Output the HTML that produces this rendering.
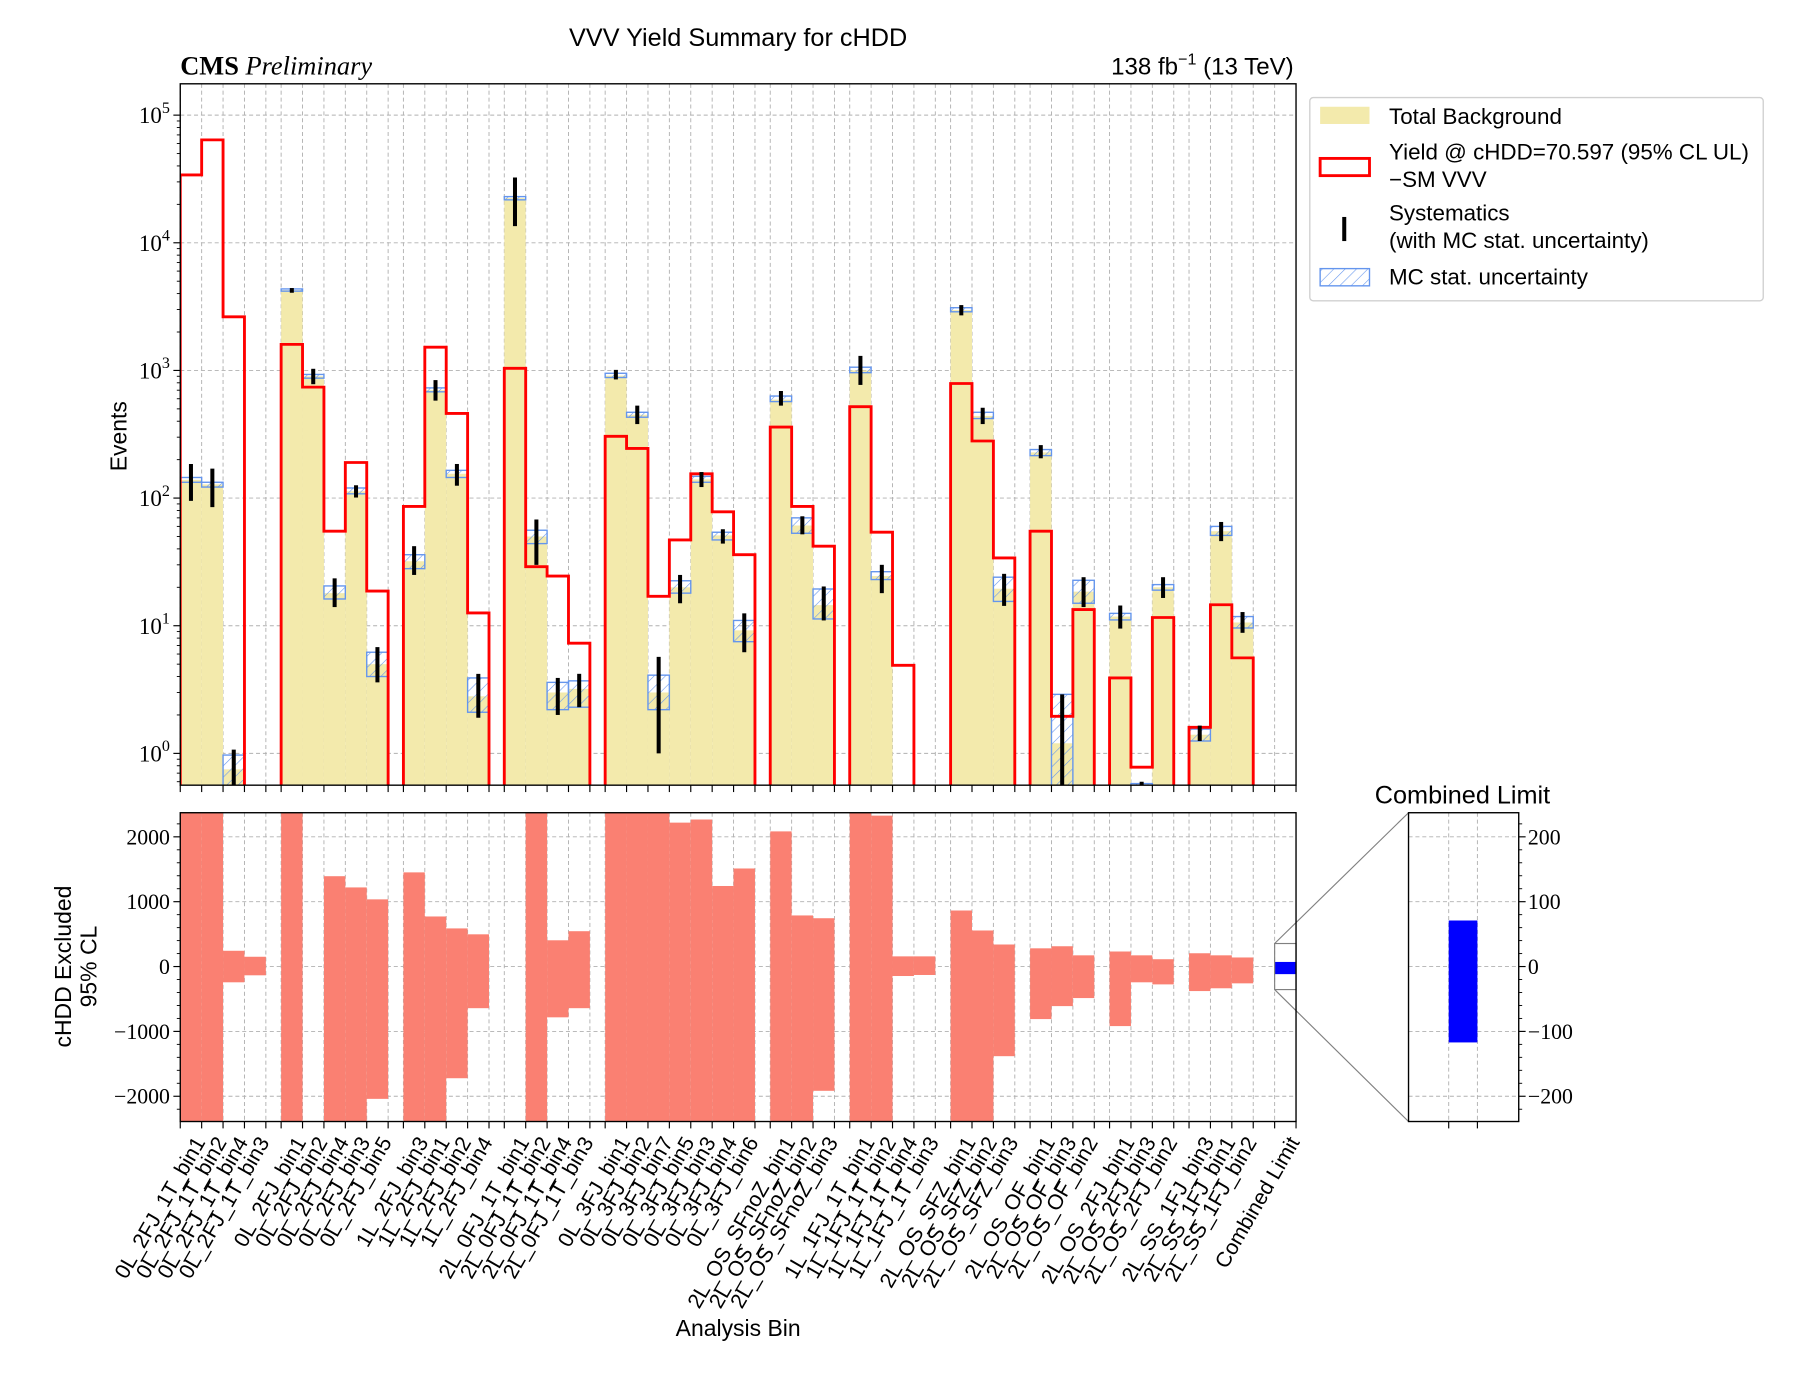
<!DOCTYPE html>
<html><head><meta charset="utf-8"><title>VVV Yield Summary for cHDD</title>
<style>
html,body{margin:0;padding:0;background:#fff;}
svg{display:block;}
.sans{font-family:"Liberation Sans",sans-serif;}
.serif{font-family:"Liberation Serif",serif;}
</style></head>
<body>
<svg id="chart" width="1800" height="1400" viewBox="0 0 1568 1219.6" xmlns="http://www.w3.org/2000/svg">
<defs>
<pattern id="hatch" patternUnits="userSpaceOnUse" width="7" height="7" patternTransform="rotate(45)">
<line x1="0" y1="0" x2="0" y2="7" stroke="#6495ed" stroke-width="1"/>
</pattern>
<clipPath id="clipMain"><rect x="157" y="73" width="972" height="611"/></clipPath>
<clipPath id="clipLow"><rect x="157" y="708" width="972" height="269"/></clipPath>
<clipPath id="clipInset"><rect x="1227" y="708" width="96" height="269"/></clipPath>
</defs>
<rect x="0" y="0" width="1568" height="1219.6" fill="#fff"/>
<text class="sans" x="643" y="40" font-size="22" text-anchor="middle">VVV Yield Summary for cHDD</text>
<text class="serif" x="157" y="65" font-size="23"><tspan font-weight="bold">CMS</tspan> <tspan font-style="italic">Preliminary</tspan></text>
<text class="sans" x="1127" y="65" font-size="21" text-anchor="end">138 fb<tspan font-size="14" dy="-9">−1</tspan><tspan dy="9"> (13 TeV)</tspan></text>
<g id="gridMain"></g>
<g id="gridLow"></g>
<g id="mainMarks" clip-path="url(#clipMain)"></g>
<g id="lowMarks" clip-path="url(#clipLow)"></g>
<g id="insetMarks" clip-path="url(#clipInset)"></g>
<g id="axes"></g>
<g id="xlabels"></g>
<text class="sans" font-size="20" text-anchor="middle" transform="translate(110,380) rotate(-90)">Events</text>
<text class="sans" font-size="20" text-anchor="middle" transform="translate(62,842) rotate(-90)"><tspan x="0" dy="0">cHDD Excluded</tspan><tspan x="0" dy="22">95% CL</tspan></text>
<text class="sans" x="643" y="1164" font-size="20" text-anchor="middle">Analysis Bin</text>
<text class="sans" x="1274" y="700" font-size="22" text-anchor="middle">Combined Limit</text>
<g>
<rect x="1141" y="85" width="395" height="177" rx="3" fill="#fff" stroke="#d0d0d0" stroke-width="1.2"/>
<rect x="1150" y="93" width="43" height="15" fill="#f3eaac"/>
<text class="sans" x="1210" y="108" font-size="19.5">Total Background</text>
<rect x="1150" y="138" width="43" height="15" fill="none" stroke="#ff0000" stroke-width="2.5"/>
<text class="sans" font-size="19.5"><tspan x="1210" y="139">Yield @ cHDD=70.597 (95% CL UL)</tspan><tspan x="1210" y="163">−SM VVV</tspan></text>
<line x1="1171" y1="189" x2="1171" y2="210" stroke="#000" stroke-width="3.5"/>
<text class="sans" font-size="19.5"><tspan x="1210" y="192">Systematics</tspan><tspan x="1210" y="216">(with MC stat.  uncertainty)</tspan></text>
<rect x="1150" y="234" width="43" height="15" fill="url(#hatch)" stroke="#6495ed" stroke-width="1.2"/>
<text class="sans" x="1210" y="248" font-size="19.5">MC stat.  uncertainty</text>
</g>
</svg>
<script>
const binLabels = ["0L_2FJ_1T_bin1","0L_2FJ_1T_bin2","0L_2FJ_1T_bin4","0L_2FJ_1T_bin3",
"0L_2FJ_bin1","0L_2FJ_bin2","0L_2FJ_bin4","0L_2FJ_bin3","0L_2FJ_bin5",
"1L_2FJ_bin3","1L_2FJ_bin1","1L_2FJ_bin2","1L_2FJ_bin4",
"2L_0FJ_1T_bin1","2L_0FJ_1T_bin2","2L_0FJ_1T_bin4","2L_0FJ_1T_bin3",
"0L_3FJ_bin1","0L_3FJ_bin2","0L_3FJ_bin7","0L_3FJ_bin5","0L_3FJ_bin3","0L_3FJ_bin4","0L_3FJ_bin6",
"2L_OS_SFnoZ_bin1","2L_OS_SFnoZ_bin2","2L_OS_SFnoZ_bin3",
"1L_1FJ_1T_bin1","1L_1FJ_1T_bin2","1L_1FJ_1T_bin4","1L_1FJ_1T_bin3",
"2L_OS_SFZ_bin1","2L_OS_SFZ_bin2","2L_OS_SFZ_bin3",
"2L_OS_OF_bin1","2L_OS_OF_bin3","2L_OS_OF_bin2",
"2L_OS_2FJ_bin1","2L_OS_2FJ_bin3","2L_OS_2FJ_bin2",
"2L_SS_1FJ_bin3","2L_SS_1FJ_bin1","2L_SS_1FJ_bin2"];
const groupSizes = [4,5,4,4,7,3,4,3,3,3,3];
const background = [139,128,0.75,0,
4260,900,18,113,5.0,
32,700,155,2.8,
22400,50,3.0,3.2,
910,450,3.0,20,140,51,9.2,
590,61,14.5,
1000,24.5,0,0,
2970,440,19.5,
228,1.2,18.5,
11.8,0.5,20,
1.4,55,10.6];
const mcStatLow = [133,122,0.55,0, 4180,870,16.2,108,4.0, 28,680,145,2.1, 21700,44,2.2,2.3, 880,430,2.2,18,133,47,7.5, 570,53,11.3, 960,23,0,0, 2880,420,15.5, 215,0.3,15, 11.1,0.45,19, 1.25,51,9.6];
const mcStatHigh = [145,133,0.97,0, 4350,930,20.5,120,6.2, 36,730,165,3.9, 23000,56,3.6,3.7, 950,470,4.1,22.5,148,54,11, 630,70,19.4, 1060,26.5,0,0, 3100,470,24, 240,2.9,22.7, 12.5,0.58,21, 1.55,60,11.8];
const systLow = [95,85,0.5,0, 4060,780,14,101,3.6, 25,580,125,1.9, 13500,30,2.0,2.3, 850,380,1.0,15,122,44,6.2, 530,52,11, 770,18,0,0, 2700,380,14.3, 205,0.3,14, 9.5,0.45,16.5, 1.25,46,8.8];
const systHigh = [185,170,1.07,0, 4420,1030,23.5,126,6.8, 42,840,185,4.2, 32500,68,3.9,4.2, 1010,530,5.7,25,160,57,12.5, 690,72,20.3, 1300,30,0,0, 3250,510,25.5, 260,2.9,24, 14.4,0.6,24, 1.65,65,12.8];
const signalYield = [34000,64000,2630,0,
1600,740,55,190,18.7,
86,1520,460,12.6,
1040,29,24.5,7.3,
305,245,17,47,155,78,36,
360,86,42,
520,54,4.9,0,
790,280,34,
55,1.95,13.4,
3.9,0.78,11.6,
1.6,14.6,5.6];
const limitLow = [-3000,-3000,-243,-135,
-3000,null,-3000,-3000,-2040,
-3000,-3000,-1722,-642,
null,-3000,-783,-642,
-3000,-3000,-3000,-3000,-3000,-3000,-3000,
-3000,-3000,-1916,
-3000,-3000,-146,-130,
-3000,-3000,-1382,
-810,-610,-486,
-918,-243,-275,
-378,-335,-259];
const limitHigh = [3000,3000,243,151,
3000,null,1393,1220,1036,
1452,772,588,497,
null,3000,405,545,
3000,3000,3000,2219,2267,1242,1512,
2084,788,745,
3000,2327,157,157,
864,556,340,
281,313,173,
232,173,113,
205,173,140];
const combinedLimit = [-117, 71];
const logTicks = [0,1,2,3,4,5];
const limitTicks = [-2000,-1000,0,1000,2000];
const insetTicks = [-200,-100,0,100,200];

const NS = "http://www.w3.org/2000/svg";
const X0 = 157, X1 = 1129, MT = 73, MB = 684, LT = 708, LB = 977;
const IX0 = 1227, IX1 = 1323;
const GAPR = 0.714;
const BW = (X1 - X0) / (45 + 10 * GAPR), GW = BW * GAPR;
function mk(tag, attrs, parent) {
  const e = document.createElementNS(NS, tag);
  for (const k in attrs) e.setAttribute(k, attrs[k]);
  if (parent) parent.appendChild(e);
  return e;
}
function yLog(v) { return v > 0 ? 656.3 - 111.2 * Math.log10(v) : MB + 10; }
function yLin(v) { return 842 - v * 0.0565; }
function yIn(v) { return 842 - v * 0.565; }
const binLeft = [];
(function () { let n = 0; groupSizes.forEach((s, g) => { for (let i = 0; i < s; i++) { binLeft.push(X0 + n * BW + g * GW); n++; } }); })();
const combLeft = X0 + 44 * BW + 10 * GW;
function xL(i) { return binLeft[i]; }
function xC(i) { return binLeft[i] + BW / 2; }
const edges = [];
binLeft.forEach(x => edges.push(x));
groupSizes.reduce((acc, s) => { edges.push(binLeft[acc + s - 1] + BW); return acc + s; }, 0);
edges.push(combLeft, combLeft + BW);

const gm = document.getElementById('gridMain'), gl = document.getElementById('gridLow');
const mm = document.getElementById('mainMarks'), lm = document.getElementById('lowMarks');
const im = document.getElementById('insetMarks'), ax = document.getElementById('axes');
const xl = document.getElementById('xlabels');
const gridStyle = {stroke: '#b0b0b0', 'stroke-width': 0.8, 'stroke-dasharray': '3.5,2.5'};

edges.forEach(x => {
  const a = mk('line', Object.assign({x1: x, x2: x, y1: MT, y2: MB}, gridStyle), gm);
  
  
  const b = mk('line', Object.assign({x1: x, x2: x, y1: LT, y2: LB}, gridStyle), gl);
  
  
  const t1 = mk('line', {x1: x, x2: x, y1: MB, y2: MB + 6, stroke: '#000', 'stroke-width': 1}, ax);
  
  
  const t2 = mk('line', {x1: x, x2: x, y1: LB, y2: LB + 6, stroke: '#000', 'stroke-width': 1}, ax);
  
  
});
logTicks.forEach(p => {
  const y = yLog(Math.pow(10, p));
  const g = mk('line', Object.assign({x1: X0, x2: X1, y1: y, y2: y}, gridStyle), gm);
  
  
  const t = mk('line', {x1: X0 - 6, x2: X0, y1: y, y2: y, stroke: '#000', 'stroke-width': 1}, ax);
  
  
  const lab = mk('text', {x: 121, y: y + 7, 'font-size': 20, class: 'serif'}, ax);
  
  
  lab.textContent = '10';
  const sup = mk('tspan', {dy: -9, 'font-size': 14}, lab);
  sup.textContent = String(p);
  for (let m = 2; m <= 9; m++) {
    const ym = yLog(m * Math.pow(10, p));
    if (ym > MT && ym < MB) {
      const mt = mk('line', {x1: X0 - 3, x2: X0, y1: ym, y2: ym, stroke: '#000', 'stroke-width': 0.8}, ax);
      
      
    }
  }
});
[0.6, 0.7, 0.8, 0.9].forEach(v => {
  const mt = mk('line', {x1: X0 - 3, x2: X0, y1: yLog(v), y2: yLog(v), stroke: '#000', 'stroke-width': 0.8}, ax);
  
  
});

limitTicks.forEach(v => {
  const y = yLin(v);
  const g = mk('line', Object.assign({x1: X0, x2: X1, y1: y, y2: y}, gridStyle), gl);
  
  
  const t = mk('line', {x1: X0 - 6, x2: X0, y1: y, y2: y, stroke: '#000', 'stroke-width': 1}, ax);
  
  
  const lab = mk('text', {x: 148, y: y + 6.5, 'font-size': 19, 'text-anchor': 'end', class: 'serif'}, ax);
  
  
  lab.textContent = (v < 0 ? '−' : '') + Math.abs(v);
});
for (let v = -2200; v <= 2200; v += 200) {
  if (v % 1000 === 0) continue;
  const t = mk('line', {x1: X0 - 3, x2: X0, y1: yLin(v), y2: yLin(v), stroke: '#000', 'stroke-width': 0.8}, ax);
  
  
}

background.forEach((v, i) => {
  if (v > 0) {
    const r = mk('rect', {x: xL(i), y: yLog(v), width: BW, height: MB + 10 - yLog(v), fill: '#f3eaac'}, mm);
    
    
  }
});
mcStatHigh.forEach((v, i) => {
  if (v > 0) {
    const y1 = yLog(v), y2 = yLog(mcStatLow[i]);
    const r = mk('rect', {x: xL(i), y: y1, width: BW, height: Math.max(y2 - y1, 1), fill: 'url(#hatch)', stroke: '#6495ed', 'stroke-width': 1.2}, mm);
    
    
  }
});
(function () {
  let n = 0;
  groupSizes.forEach((s) => {
    let d = 'M' + xL(n) + ',' + (MB + 10);
    for (let i = n; i < n + s; i++) d += ' V' + yLog(signalYield[i]) + ' H' + (xL(i) + BW);
    d += ' V' + (MB + 10);
    const p = mk('path', {d: d, fill: 'none', stroke: '#ff0000', 'stroke-width': 2.5}, mm);
    
    
    n += s;
  });
})();
systHigh.forEach((v, i) => {
  if (v > 0) {
    const l = mk('line', {x1: xC(i), x2: xC(i), y1: yLog(v), y2: yLog(systLow[i]), stroke: '#000', 'stroke-width': 3.5}, mm);
    
    
  }
});

limitHigh.forEach((v, i) => {
  if (v === null) return;
  const y1 = yLin(v), y2 = yLin(limitLow[i]);
  const r = mk('rect', {x: xL(i), y: y1, width: BW, height: y2 - y1, fill: '#fa8072'}, lm);
  
  
});
{
  const y1 = yLin(combinedLimit[1]), y2 = yLin(combinedLimit[0]);
  const r = mk('rect', {x: combLeft, y: y1, width: BW, height: y2 - y1, fill: '#0000ff'}, lm);
  
  
  const zb = mk('rect', {x: combLeft, y: yLin(355), width: BW, height: yLin(-355) - yLin(355), fill: 'none', stroke: '#808080', 'stroke-width': 1}, ax);
  
  
  const c1 = mk('line', {x1: combLeft, y1: yLin(355), x2: IX0, y2: LT, stroke: '#808080', 'stroke-width': 1}, ax);
  
  
  const c2 = mk('line', {x1: combLeft, y1: yLin(-355), x2: IX0, y2: LB, stroke: '#808080', 'stroke-width': 1}, ax);
  
  
}
[1262, 1287].forEach(x => {
  const g = mk('line', Object.assign({x1: x, x2: x, y1: LT, y2: LB}, gridStyle), im);
  
  
  const t = mk('line', {x1: x, x2: x, y1: LB, y2: LB + 6, stroke: '#000', 'stroke-width': 1}, ax);
  
  
});
insetTicks.forEach(v => {
  const y = yIn(v);
  const g = mk('line', Object.assign({x1: IX0, x2: IX1, y1: y, y2: y}, gridStyle), im);
  
  
  const t = mk('line', {x1: IX1, x2: IX1 + 6, y1: y, y2: y, stroke: '#000', 'stroke-width': 1}, ax);
  
  
  const lab = mk('text', {x: 1331, y: y + 6.5, 'font-size': 19, class: 'serif'}, ax);
  
  
  lab.textContent = (v < 0 ? '−' : '') + Math.abs(v);
});
for (let v = -220; v <= 220; v += 20) {
  if (v % 100 === 0) continue;
  const t = mk('line', {x1: IX1, x2: IX1 + 3, y1: yIn(v), y2: yIn(v), stroke: '#000', 'stroke-width': 0.8}, ax);
  
  
}
{
  const y1 = yIn(combinedLimit[1]), y2 = yIn(combinedLimit[0]);
  const r = mk('rect', {x: 1262, y: y1, width: 25, height: y2 - y1, fill: '#0000ff'}, im);
  
  
}
[[X0, MT, X1 - X0, MB - MT, 'main-axes-frame'], [X0, LT, X1 - X0, LB - LT, 'lower-axes-frame'], [IX0, LT, IX1 - IX0, LB - LT, 'inset-axes-frame']].forEach(f => {
  const r = mk('rect', {x: f[0], y: f[1], width: f[2], height: f[3], fill: 'none', stroke: '#000', 'stroke-width': 1.2}, ax);
  
  
});
const allLabels = binLabels.concat(['Combined Limit']);
allLabels.forEach((s, i) => {
  const cx = i < binLabels.length ? xC(i) : combLeft + BW / 2;
  const x = cx + 13, y = 995;
  const t = mk('text', {x: x, y: y, 'font-size': 18.5, 'text-anchor': 'end', class: 'sans', transform: 'rotate(-60,' + x + ',' + y + ')'}, xl);
  
  
  t.textContent = s;
});
</script>
</body></html>
